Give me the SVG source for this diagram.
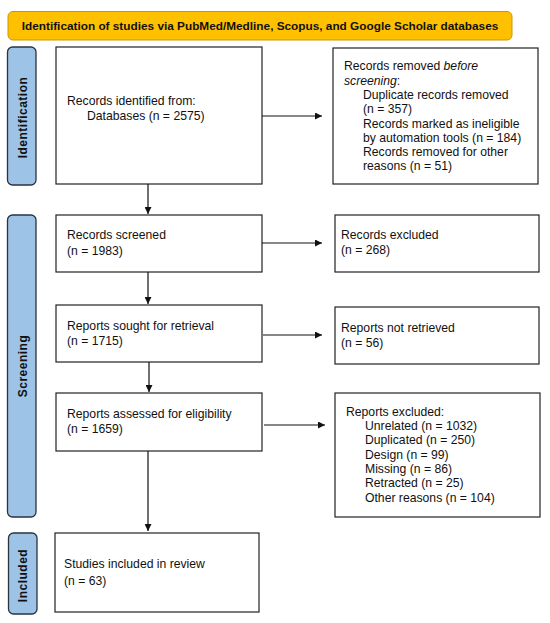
<svg xmlns="http://www.w3.org/2000/svg" width="550" height="623" viewBox="0 0 550 623">
<style>
  .box { fill: #ffffff; stroke: #222222; stroke-width: 1.2; }
  .side { fill: #9dc3e6; stroke: #2b3340; stroke-width: 1.3; }
  .t { font-family: "Liberation Sans", Arial, sans-serif; font-size: 12.2px; fill: #111111; }
  .sl { font-family: "Liberation Sans", Arial, sans-serif; font-size: 12px; font-weight: bold; fill: #111111; letter-spacing: 0.5px; }
  .conn { stroke: #111111; stroke-width: 1.2; fill: none; marker-end: url(#ah); }
</style>
<defs>
  <marker id="ah" viewBox="0 0 10 10" refX="10" refY="5" markerWidth="7" markerHeight="7" markerUnits="userSpaceOnUse" orient="auto">
    <path d="M0,0 L10,5 L0,10 z" fill="#111111"/>
  </marker>
</defs>
<rect width="550" height="623" fill="#ffffff"/>

<g id="title">
  <rect x="8" y="11.5" width="504" height="28.5" rx="5" fill="#ffc000" stroke="#c99700" stroke-width="1"/>
  <text x="260" y="30" text-anchor="middle" font-family="Liberation Sans, Arial, sans-serif" font-size="11.8" font-weight="bold" fill="#111111">Identification of studies via PubMed/Medline, Scopus, and Google Scholar databases</text>
</g>

<g id="side-identification">
  <rect class="side" x="7.5" y="47" width="28.5" height="138" rx="5"/>
  <text class="sl" transform="translate(26.5,117.5) rotate(-90)" text-anchor="middle">Identification</text>
</g>
<g id="side-screening">
  <rect class="side" x="7.5" y="215" width="28.5" height="302" rx="5"/>
  <text class="sl" transform="translate(26.5,366) rotate(-90)" text-anchor="middle">Screening</text>
</g>
<g id="side-included">
  <rect class="side" x="8.5" y="533" width="28.5" height="81" rx="5"/>
  <text class="sl" transform="translate(27,575.5) rotate(-90)" text-anchor="middle">Included</text>
</g>

<g id="identified">
  <rect class="box" x="56" y="47" width="206" height="137"/>
  <text class="t" x="67" y="105">Records identified from:</text>
  <text class="t" x="87" y="120">Databases (n = 2575)</text>
</g>

<g id="removed">
  <rect class="box" x="333" y="48" width="205" height="136"/>
  <text class="t" x="344" y="70">Records removed <tspan font-style="italic">before</tspan></text>
  <text class="t" x="344" y="85"><tspan font-style="italic">screening</tspan>:</text>
  <text class="t" x="363" y="99">Duplicate records removed</text>
  <text class="t" x="363" y="113">(n = 357)</text>
  <text class="t" x="363" y="128">Records marked as ineligible</text>
  <text class="t" x="363" y="142">by automation tools (n = 184)</text>
  <text class="t" x="363" y="156">Records removed for other</text>
  <text class="t" x="363" y="170">reasons (n = 51)</text>
</g>

<g id="screened">
  <rect class="box" x="56" y="215" width="206" height="57"/>
  <text class="t" x="67" y="239">Records screened</text>
  <text class="t" x="67" y="255">(n = 1983)</text>
</g>

<g id="excluded">
  <rect class="box" x="335" y="215" width="204" height="57"/>
  <text class="t" x="341" y="239">Records excluded</text>
  <text class="t" x="341" y="254">(n = 268)</text>
</g>

<g id="sought">
  <rect class="box" x="56" y="305" width="206" height="57"/>
  <text class="t" x="67" y="330">Reports sought for retrieval</text>
  <text class="t" x="67" y="345">(n = 1715)</text>
</g>

<g id="not-retrieved">
  <rect class="box" x="335" y="307" width="204" height="57"/>
  <text class="t" x="341" y="332">Reports not retrieved</text>
  <text class="t" x="341" y="347">(n = 56)</text>
</g>

<g id="assessed">
  <rect class="box" x="56" y="393" width="206" height="58"/>
  <text class="t" x="67" y="418">Reports assessed for eligibility</text>
  <text class="t" x="67" y="433">(n = 1659)</text>
</g>

<g id="reports-excluded">
  <rect class="box" x="335" y="393" width="205" height="124"/>
  <text class="t" x="346" y="416">Reports excluded:</text>
  <text class="t" x="365" y="430">Unrelated (n = 1032)</text>
  <text class="t" x="365" y="444">Duplicated (n = 250)</text>
  <text class="t" x="365" y="458.5">Design (n = 99)</text>
  <text class="t" x="365" y="473">Missing (n = 86)</text>
  <text class="t" x="365" y="487">Retracted (n = 25)</text>
  <text class="t" x="365" y="502">Other reasons (n = 104)</text>
</g>

<g id="included">
  <rect class="box" x="55" y="533" width="204" height="79"/>
  <text class="t" x="64" y="568">Studies included in review</text>
  <text class="t" x="64" y="585">(n = 63)</text>
</g>

<g id="connectors">
  <line class="conn" x1="262" y1="116" x2="322" y2="116"/>
  <line class="conn" x1="148" y1="184" x2="148" y2="214"/>
  <line class="conn" x1="262" y1="243" x2="322" y2="243"/>
  <line class="conn" x1="148" y1="272" x2="148" y2="304"/>
  <line class="conn" x1="263" y1="335" x2="322" y2="335"/>
  <line class="conn" x1="149" y1="362" x2="149" y2="392"/>
  <line class="conn" x1="264" y1="425" x2="325" y2="425"/>
  <line class="conn" x1="148" y1="451" x2="148" y2="531"/>
</g>
</svg>
